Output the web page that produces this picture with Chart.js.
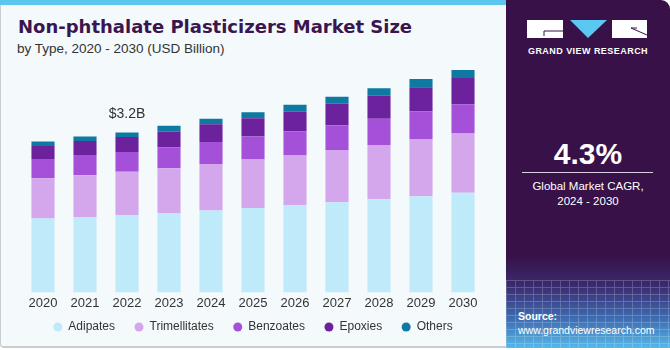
<!DOCTYPE html>
<html>
<head>
<meta charset="utf-8">
<script src="https://cdn.jsdelivr.net/npm/chart.js@4.4.1/dist/chart.umd.min.js"></script>
<style>
  html, body { margin: 0; padding: 0; background: #ffffff; }
  #card {
    position: relative; width: 670px; height: 350px; overflow: hidden;
    font-family: "Liberation Sans", Arial, sans-serif;
  }
  #left {
    position: absolute; left: 0; top: 0; width: 520px; height: 348px;
    background: #f4f9fc; border-left: 1px solid #c9cdd1; border-bottom: 2px solid #c9cdd1;
    box-sizing: border-box; border-radius: 0 0 0 4px;
  }
  #strip { position: absolute; left: 0; top: 0; width: 520px; height: 5px; background: #5cc6ee; }
  #title {
    position: absolute; left: 18px; top: 16px; font-family: "DejaVu Sans", sans-serif;
    font-size: 18px; font-weight: bold; color: #3a1550; white-space: nowrap;
  }
  #subtitle {
    position: absolute; left: 17px; top: 41px; font-size: 13.5px; color: #333;
    white-space: nowrap;
  }
  #chartBox { position: absolute; left: 0; top: 60px; width: 506px; height: 290px; }
  #panel {
    position: absolute; left: 506px; top: 0; width: 164px; height: 348px;
    background: linear-gradient(to bottom, #371148 0px, #371148 255px, #3a2a6e 285px, #3f6fb4 320px, #56b8ea 348px);
    border-radius: 0 9px 0 0; color: #fff; overflow: hidden;
  }
  #grid {
    position: absolute; left: 0; top: 280px; width: 164px; height: 68px; opacity: 0.22;
    background:
      repeating-linear-gradient(to right, rgba(255,255,255,0.9) 0 1px, transparent 1px 9px),
      repeating-linear-gradient(to bottom, rgba(255,255,255,0.9) 0 1px, transparent 1px 7px);
  }
  #logo { position: absolute; left: 21px; top: 20px; }
  #brand {
    position: absolute; left: 21px; width: 122px; top: 46px; text-align: center;
    font-size: 9px; font-weight: bold; letter-spacing: 0.45px; white-space: nowrap;
  }
  #cagr {
    position: absolute; left: 0; width: 164px; top: 137px; text-align: center;
    font-size: 30px; font-weight: bold;
  }
  #rule { position: absolute; left: 16px; width: 131px; top: 172px; height: 1px; background: #d8cfe0; }
  #cagrText {
    position: absolute; left: 0; width: 164px; top: 179px; text-align: center;
    font-size: 11.5px; line-height: 15px;
  }
  #source {
    position: absolute; left: 12px; top: 309px; font-size: 10.5px; line-height: 14px;
  }
</style>
</head>
<body>
<div id="card">
  <div id="left"></div>
  <div id="strip"></div>
  <div id="title">Non-phthalate Plasticizers Market Size</div>
  <div id="subtitle">by Type, 2020 - 2030 (USD Billion)</div>
  <div id="chartBox"><canvas id="chart"></canvas></div>
  <div id="panel">
    <div id="grid"></div>
    <svg id="logo" width="121" height="19" viewBox="0 0 121 19">
      <rect x="0" y="0" width="36" height="18" fill="#ffffff"/>
      <polyline points="36,11 17,11 17,16" fill="none" stroke="#371148" stroke-width="1"/>
      <polygon points="43,0 80,0 61,18" fill="#5bc8f2"/>
      <rect x="85" y="0" width="35" height="18" fill="#ffffff"/>
      <line x1="104" y1="8" x2="120" y2="15" stroke="#371148" stroke-width="1"/>
      <line x1="104" y1="8" x2="110" y2="8" stroke="#371148" stroke-width="1"/>
    </svg>
    <div id="brand">GRAND VIEW RESEARCH</div>
    <div id="cagr">4.3%</div>
    <div id="rule"></div>
    <div id="cagrText">Global Market CAGR,<br>2024 - 2030</div>
    <div id="source"><b>Source:</b><br>www.grandviewresearch.com</div>
  </div>
</div>

<script>
// --- Data (USD Billion) ---
const years = ['2020', '2021', '2022', '2023', '2024', '2025', '2026', '2027', '2028', '2029', '2030'];
const adipates      = [1.47, 1.50, 1.54, 1.58, 1.63, 1.68, 1.73, 1.79, 1.85, 1.91, 1.98];
const trimellitates = [0.80, 0.83, 0.86, 0.89, 0.92, 0.96, 0.99, 1.03, 1.08, 1.13, 1.18];
const benzoates     = [0.38, 0.40, 0.39, 0.41, 0.44, 0.46, 0.48, 0.50, 0.52, 0.56, 0.58];
const epoxies       = [0.26, 0.28, 0.30, 0.32, 0.35, 0.36, 0.39, 0.43, 0.46, 0.48, 0.52];
const others        = [0.09, 0.09, 0.09, 0.11, 0.11, 0.12, 0.14, 0.14, 0.15, 0.16, 0.16];
const annotatedYear = '2022';
const annotationText = '$3.2B';

const seriesColors = {
    Adipates: '#bfeaf9',
    Trimellitates: '#d4a7ed',
    Benzoates: '#a550d8',
    Epoxies: '#6c219d',
    Others: '#0e7aa1'
};
const FONT = '"Liberation Sans", Arial, sans-serif';

function makeSet(label, data) {
    return {
        label: label,
        data: data,
        backgroundColor: seriesColors[label],
        borderWidth: 0,
        categoryPercentage: 1,
        barPercentage: 0.55
    };
}

// label above one bar, positioned from the scales
const totalLabel = {
    id: 'totalLabel',
    afterDatasetsDraw(chart) {
        const idx = years.indexOf(annotatedYear);
        let total = 0;
        chart.data.datasets.forEach(ds => { total += ds.data[idx]; });
        const x = chart.scales.x.getPixelForValue(idx);
        const y = chart.scales.y.getPixelForValue(total);
        const ctx = chart.ctx;
        ctx.save();
        ctx.font = '14px ' + FONT;
        ctx.fillStyle = '#333333';
        ctx.textAlign = 'center';
        ctx.textBaseline = 'middle';
        ctx.fillText(annotationText, x, y - 18);
        ctx.restore();
    }
};

// legend row under the axis: dot, label, wide gap
const dotLegend = {
    id: 'dotLegend',
    afterDraw(chart) {
        const ctx = chart.ctx;
        const sets = chart.data.datasets;
        const r = 4.5, toText = 10.5, gap = 24, y = chart.height - 23;
        ctx.save();
        ctx.font = '12px ' + FONT;
        const widths = sets.map(ds => ctx.measureText(ds.label).width);
        let total = r;
        widths.forEach((w, i) => { total += toText + w + (i < widths.length - 1 ? gap : 0); });
        let x = (chart.width - total) / 2 + r;
        sets.forEach((ds, i) => {
            ctx.fillStyle = ds.backgroundColor;
            ctx.beginPath();
            ctx.arc(x, y, r, 0, Math.PI * 2);
            ctx.fill();
            ctx.fillStyle = '#333333';
            ctx.textAlign = 'left';
            ctx.textBaseline = 'middle';
            ctx.fillText(ds.label, x + toText, y);
            x += toText + widths[i] + gap;
        });
        ctx.restore();
    }
};

new Chart(document.getElementById('chart'), {
    type: 'bar',
    data: {
        labels: years,
        datasets: [
            makeSet('Adipates', adipates),
            makeSet('Trimellitates', trimellitates),
            makeSet('Benzoates', benzoates),
            makeSet('Epoxies', epoxies),
            makeSet('Others', others)
        ]
    },
    options: {
        responsive: true,
        maintainAspectRatio: false,
        animation: false,
        layout: { padding: { left: 22, right: 22, top: 6, bottom: 36 } },
        plugins: {
            legend: { display: false },
            tooltip: { enabled: false }
        },
        scales: {
            x: {
                stacked: true,
                grid: { display: false, drawTicks: false },
                border: { display: false },
                ticks: {
                    color: '#333333',
                    padding: 3,
                    font: { family: FONT, size: 13 }
                }
            },
            y: {
                stacked: true,
                display: false,
                min: 0,
                max: 4.5
            }
        }
    },
    plugins: [totalLabel, dotLegend]
});
</script>
</body>
</html>
